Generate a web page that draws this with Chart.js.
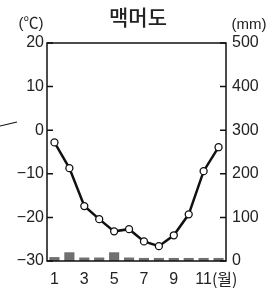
<!DOCTYPE html>
<html>
<head>
<meta charset="utf-8">
<script src="https://cdn.jsdelivr.net/npm/chart.js@4"></script>
<style>
    html, body { margin: 0; padding: 0; background: #fff; }
    #wrap { width: 280px; height: 288px; }
</style>
</head>
<body>
<div id="wrap"><canvas id="chart" width="280" height="288"></canvas></div>
<script>
// 맥머도 기후 그래프
const months = ['1', '2', '3', '4', '5', '6', '7', '8', '9', '10', '11', '12'];
const temperature = [-2.8, -8.7, -17.4, -20.4, -23.2, -22.7, -25.5, -26.6, -24.1, -19.3, -9.4, -3.9];
const precipitation = [9, 20, 8, 8, 20, 8, 7, 7, 7, 7, 7, 7];
const tempTicks = [-30, -20, -10, 0, 10, 20];
const precipTicks = [0, 100, 200, 300, 400, 500];

const tickFont = { family: '"Liberation Sans", Arial, sans-serif', size: 16 };
const textColor = '#222';

// Рамка, внутренние засечки и подписи
const framePlugin = {
    id: 'frame',
    afterDraw(chart) {
        const ctx = chart.ctx;
        const a = chart.chartArea;
        ctx.save();
        ctx.strokeStyle = '#111';
        ctx.lineWidth = 1.5;
        ctx.strokeRect(a.left, a.top, a.right - a.left, a.bottom - a.top);

        ctx.beginPath();
        chart.scales.yT.ticks.forEach(t => {
            const y = chart.scales.yT.getPixelForValue(t.value);
            ctx.moveTo(a.left, y);
            ctx.lineTo(a.left + 6, y);
        });
        chart.scales.yP.ticks.forEach(t => {
            const y = chart.scales.yP.getPixelForValue(t.value);
            ctx.moveTo(a.right - 6, y);
            ctx.lineTo(a.right, y);
        });
        ctx.stroke();

        // обрывок линии соседнего рисунка
        ctx.lineWidth = 1.2;
        ctx.beginPath();
        ctx.moveTo(0, 126);
        ctx.lineTo(17, 122);
        ctx.stroke();

        ctx.fillStyle = textColor;
        ctx.textAlign = 'center';
        ctx.textBaseline = 'middle';
        ctx.font = '500 21px "Noto Sans CJK KR", sans-serif';
        ctx.fillText('맥머도', 138, 17);

        ctx.font = '15px "Liberation Sans", "Noto Sans CJK KR", sans-serif';
        ctx.fillText('(℃)', 31, 24);
        ctx.fillText('(mm)', 249, 25);

        const xs = chart.scales.x;
        ctx.font = '16px "Liberation Sans", Arial, sans-serif';
        const half = ctx.measureText('11').width / 2;
        ctx.textAlign = 'left';
        ctx.font = '16px "Noto Sans CJK KR", sans-serif';
        ctx.fillText('(월)', xs.getPixelForValue(10) + half, 279);
        ctx.restore();
    }
};

new Chart(document.getElementById('chart'), {
    data: {
        labels: months,
        datasets: [
            {
                type: 'line',
                data: temperature,
                yAxisID: 'yT',
                borderColor: '#111',
                borderWidth: 2.5,
                tension: 0,
                pointRadius: 3.5,
                pointBackgroundColor: '#fff',
                pointBorderColor: '#111',
                pointBorderWidth: 1.3,
                order: 0
            },
            {
                type: 'bar',
                data: precipitation,
                yAxisID: 'yP',
                backgroundColor: '#707070',
                barPercentage: 0.68,
                categoryPercentage: 1,
                order: 1
            }
        ]
    },
    options: {
        responsive: false,
        animation: false,
        layout: { padding: { top: 43, left: 0, right: 0, bottom: 0 } },
        plugins: {
            legend: { display: false },
            tooltip: { enabled: false }
        },
        scales: {
            x: {
                offset: true,
                grid: { display: false, drawTicks: false },
                border: { display: false },
                ticks: {
                    font: tickFont,
                    color: textColor,
                    padding: 9,
                    autoSkip: false,
                    maxRotation: 0,
                    callback: (v, i) => (i % 2 === 0 ? months[i] : '')
                },
                afterFit: s => { s.height = 27; }
            },
            yT: {
                position: 'left',
                min: -30,
                max: 20,
                afterBuildTicks: s => { s.ticks = tempTicks.map(v => ({ value: v })); },
                grid: { display: false, drawTicks: false },
                border: { display: false },
                ticks: {
                    font: tickFont,
                    color: textColor,
                    padding: 3,
                    callback: v => (v < 0 ? '\u2212' + Math.abs(v) : v)
                },
                afterFit: s => { s.width = 47; }
            },
            yP: {
                position: 'right',
                min: 0,
                max: 500,
                afterBuildTicks: s => { s.ticks = precipTicks.map(v => ({ value: v })); },
                grid: { display: false, drawTicks: false },
                border: { display: false },
                ticks: {
                    font: tickFont,
                    color: textColor,
                    padding: 6
                },
                afterFit: s => { s.width = 54; }
            }
        }
    },
    plugins: [framePlugin]
});
</script>
</body>
</html>
